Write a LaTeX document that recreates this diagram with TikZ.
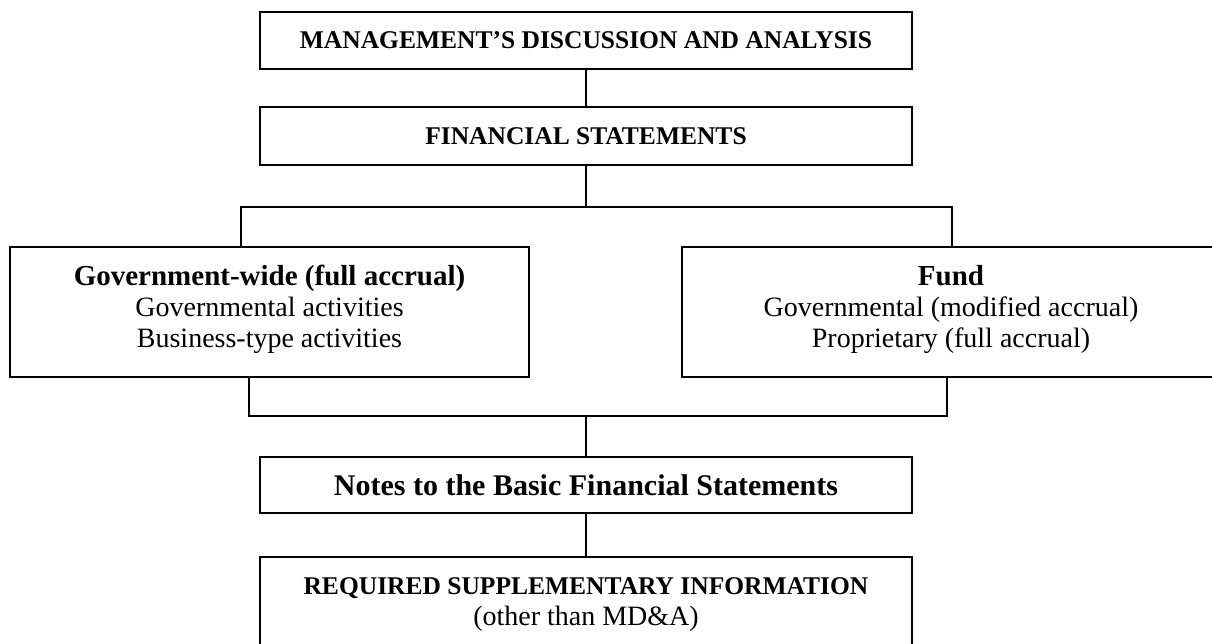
\documentclass[tikz,border=0pt]{standalone}
\usepackage{fontspec}
\setmainfont{Liberation Serif}
\usepackage{tikz}

\newcommand{\capsline}[1]{{\fontsize{25.5}{31}\selectfont\bfseries #1}}
\newcommand{\headline}[1]{{\fontsize{29}{31}\selectfont\bfseries #1}}
\newcommand{\bodyline}[1]{{\fontsize{28}{31}\selectfont #1}}

\tikzset{
  box/.style={draw,line width=1.8pt,rectangle,align=center,inner sep=0pt,
              font=\fontsize{28}{31}\selectfont},
  link/.style={line width=1.8pt}
}

\begin{document}
\begin{tikzpicture}[x=1pt,y=-1pt]
  \useasboundingbox (0,0) rectangle (1212,643);

  \node[box,minimum width=652pt,minimum height=57pt] (mda) at (586,40.5)
    {\capsline{MANAGEMENT'S DISCUSSION AND ANALYSIS}};
  \node[box,minimum width=652pt,minimum height=58pt] (fin) at (586,136)
    {\capsline{FINANCIAL STATEMENTS}};
  \node[box,minimum width=519pt,minimum height=130pt] (gov) at (269.5,312)
    {\headline{Government-wide (full accrual)}\\\bodyline{Governmental activities}\\
     \bodyline{Business-type activities}\\[-19pt]};
  \node[box,minimum width=538pt,minimum height=130pt] (fund) at (951,312)
    {\headline{Fund}\\\bodyline{Governmental (modified accrual)}\\
     \bodyline{Proprietary (full accrual)}\\[-19pt]};
  \node[box,minimum width=652pt,minimum height=56pt] (notes) at (586,485)
    {{\fontsize{30}{31}\selectfont\bfseries Notes to the Basic Financial Statements}};
  \node[box,minimum width=652pt,minimum height=96pt] (rsi) at (586,605)
    {\capsline{REQUIRED SUPPLEMENTARY INFORMATION}\\\bodyline{(other than MD\&A)}};

  \coordinate (tl) at (241,207);
  \coordinate (tr) at (952,207);
  \coordinate (bl) at (249,416);
  \coordinate (br) at (947,416);

  \draw[link] (mda.south) -- (fin.north);
  \draw[link] (fin.south) -- (fin.south |- tl);
  \draw[link] (gov.north -| tl) -- (tl) -- (tr) -- (fund.north -| tr);
  \draw[link] (gov.south -| bl) -- (bl) -- (br) -- (fund.south -| br);
  \draw[link] (notes.north |- bl) -- (notes.north);
  \draw[link] (notes.south) -- (rsi.north);
\end{tikzpicture}
\end{document}
